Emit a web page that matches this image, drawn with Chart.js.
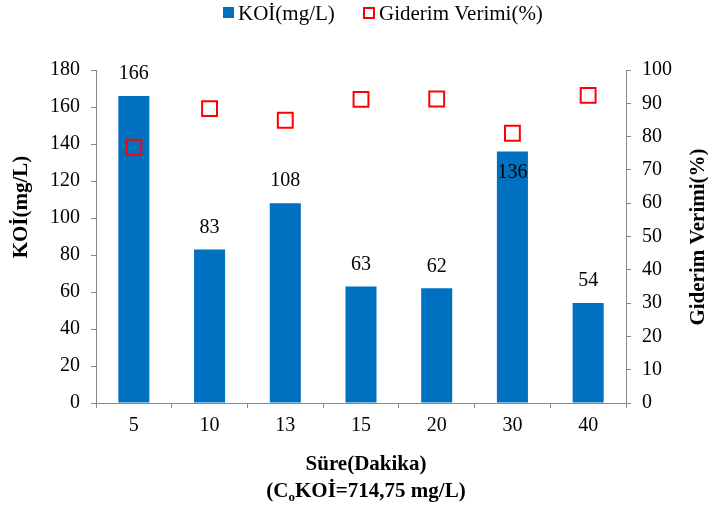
<!DOCTYPE html>
<html>
<head>
<meta charset="utf-8">
<script src="https://cdn.jsdelivr.net/npm/chart.js@4/dist/chart.umd.min.js"></script>
<style>
  html, body { margin: 0; padding: 0; background: #ffffff; }
  #wrap { width: 708px; height: 509px; position: relative; }
</style>
</head>
<body>
<div id="wrap"><canvas id="c" width="708" height="509"></canvas></div>
<script>
// Süre (dakika) kategorileri
const sureLabels = ['5', '10', '13', '15', '20', '30', '40'];
// Çıkış KOİ değerleri (mg/L)
const koiValues = [166, 83, 108, 63, 62, 136, 54];
// Giderim verimi (%)
const verimValues = [76.8, 88.4, 84.9, 91.2, 91.3, 81.0, 92.4];

const SERIF = '"Liberation Serif", "Times New Roman", serif';
const AXIS_GRAY = '#898989';
const BAR_BLUE = '#0070C0';
const MARK_RED = '#FF0000';

// Değer etiketleri, legend ve eksen başlıkları
const annotate = {
  id: 'annotate',
  afterDatasetsDraw(chart) {
    const ctx = chart.ctx;
    const barMeta = chart.getDatasetMeta(0);
    const ptMeta = chart.getDatasetMeta(1);
    ctx.save();
    ctx.font = '20px ' + SERIF;
    ctx.fillStyle = '#000';
    ctx.textAlign = 'center';
    ctx.textBaseline = 'middle';
    barMeta.data.forEach((bar, i) => {
      let y = bar.y - 22;
      const p = ptMeta.data[i];
      // etiket işaretçiyle çakışırsa sütunun içine al
      if (p && Math.abs(p.y - y) < 18) y = bar.y + 21;
      ctx.fillText(String(koiValues[i]), bar.x, y);
    });
    ctx.restore();
  },
  afterDraw(chart) {
    const ctx = chart.ctx;
    ctx.save();
    // legend
    ctx.font = '21px ' + SERIF;
    ctx.textBaseline = 'middle';
    ctx.textAlign = 'left';
    ctx.fillStyle = BAR_BLUE;
    ctx.fillRect(223, 7, 11, 11);
    ctx.fillStyle = '#000';
    ctx.fillText(chart.data.datasets[0].label, 238, 14);
    ctx.strokeStyle = MARK_RED;
    ctx.lineWidth = 2;
    ctx.strokeRect(364, 8, 10, 10);
    ctx.fillText(chart.data.datasets[1].label, 379, 14);

    ctx.font = 'bold 21px ' + SERIF;
    ctx.textAlign = 'center';
    // sol eksen başlığı
    ctx.save();
    ctx.translate(22, 207);
    ctx.rotate(-Math.PI / 2);
    ctx.fillText('KOİ(mg/L)', 0, 0);
    ctx.restore();
    // sağ eksen başlığı
    ctx.save();
    ctx.translate(699, 237);
    ctx.rotate(-Math.PI / 2);
    ctx.fillText('Giderim Verimi(%)', 0, 0);
    ctx.restore();
    // x ekseni başlığı
    ctx.fillText('Süre(Dakika)', 366, 465);
    // alt satır: (CₒKOİ=714,75 mg/L)
    const partA = '(C', partSub = 'o', partB = 'KOİ=714,75 mg/L)';
    const big = 'bold 21px ' + SERIF, small = 'bold 13px ' + SERIF;
    ctx.font = big; const wA = ctx.measureText(partA).width, wB = ctx.measureText(partB).width;
    ctx.font = small; const wS = ctx.measureText(partSub).width;
    let x = 366 - (wA + wS + wB) / 2;
    ctx.textAlign = 'left';
    ctx.font = big; ctx.fillText(partA, x, 492); x += wA;
    ctx.font = small; ctx.fillText(partSub, x, 498); x += wS;
    ctx.font = big; ctx.fillText(partB, x, 492);
    ctx.restore();
  }
};

new Chart(document.getElementById('c'), {
  type: 'bar',
  data: {
    labels: sureLabels,
    datasets: [
      {
        label: 'KOİ(mg/L)',
        data: koiValues,
        backgroundColor: BAR_BLUE,
        borderWidth: 0,
        barPercentage: 0.41,
        categoryPercentage: 1.0,
        yAxisID: 'y',
        order: 2
      },
      {
        type: 'line',
        label: 'Giderim Verimi(%)',
        data: verimValues,
        showLine: false,
        pointStyle: 'rect',
        pointRadius: 10.5,
        pointBorderWidth: 2,
        pointBorderColor: MARK_RED,
        pointBackgroundColor: 'rgba(0,0,0,0)',
        borderColor: MARK_RED,
        yAxisID: 'y1',
        order: 1
      }
    ]
  },
  options: {
    responsive: false,
    animation: false,
    devicePixelRatio: 1,
    layout: { padding: { top: 70, left: 0, right: 0, bottom: 0 } },
    plugins: { legend: { display: false }, tooltip: { enabled: false } },
    scales: {
      x: {
        offset: true,
        grid: { display: true, drawOnChartArea: false, offset: true, tickLength: 5, color: AXIS_GRAY, tickColor: AXIS_GRAY },
        border: { color: AXIS_GRAY, width: 1 },
        ticks: { color: '#000', font: { family: SERIF, size: 20 }, padding: 6, maxRotation: 0 },
        afterFit(s) { s.height = 106; }
      },
      y: {
        position: 'left',
        min: 0, max: 180,
        ticks: { stepSize: 20, color: '#000', font: { family: SERIF, size: 20 }, padding: 11 },
        grid: { display: true, drawOnChartArea: false, tickLength: 5, color: AXIS_GRAY, tickColor: AXIS_GRAY },
        border: { color: AXIS_GRAY, width: 1 },
        afterFit(s) { s.width = 96; }
      },
      y1: {
        position: 'right',
        min: 0, max: 100,
        ticks: { stepSize: 10, color: '#000', font: { family: SERIF, size: 20 }, padding: 11 },
        grid: { display: true, drawOnChartArea: false, tickLength: 5, color: AXIS_GRAY, tickColor: AXIS_GRAY },
        border: { color: AXIS_GRAY, width: 1 },
        afterFit(s) { s.width = 82; }
      }
    }
  },
  plugins: [annotate]
});
</script>
</body>
</html>
